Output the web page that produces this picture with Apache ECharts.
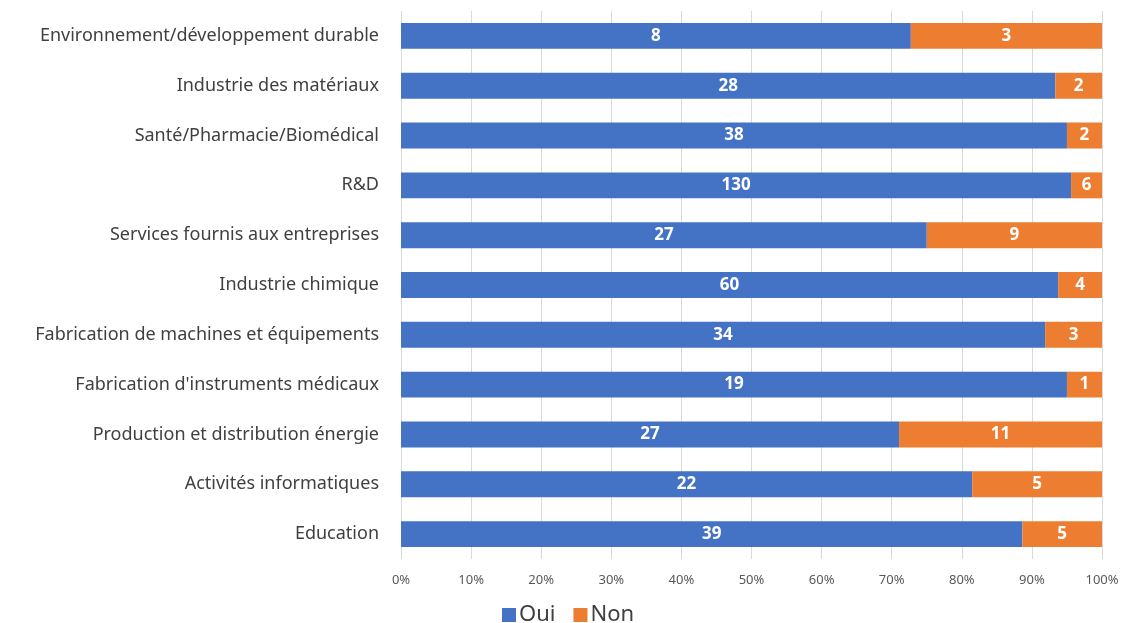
<!DOCTYPE html>
<html><head><meta charset="utf-8">
<script src="https://cdn.jsdelivr.net/npm/echarts@6/dist/echarts.min.js"></script>
<style>html,body{margin:0;padding:0;background:#fff}#c{width:1122px;height:623px}</style>
</head><body><div id="c"></div>
<script>
const categories = ["Environnement/développement durable","Industrie des matériaux","Santé/Pharmacie/Biomédical","R&D","Services fournis aux entreprises","Industrie chimique","Fabrication de machines et équipements","Fabrication d'instruments médicaux","Production et distribution énergie","Activités informatiques","Education"];
const oui = [8,28,38,130,27,60,34,19,27,22,39];
const non = [3,2,2,6,9,4,3,1,11,5,5];
const xTicks = ["0%","10%","20%","30%","40%","50%","60%","70%","80%","90%","100%"];

const pct = (arr, i) => arr[i] / (oui[i] + non[i]) * 100;
const ouiData = oui.map((v,i)=>({value:pct(oui,i), count:v}));
const nonData = non.map((v,i)=>({value:pct(non,i), count:v}));
const font = "Noto Sans";
const chart = echarts.init(document.getElementById('c'));
const lbl = {show:true, position:'inside', color:'#fff', fontWeight:'bold', fontSize:17, fontFamily:font, formatter:p=>p.data.count};
chart.setOption({
  animation:false,
  grid:{left:401, right:20, top:11, height:548, containLabel:false},
  legend:{left:497, top:599, itemWidth:14, itemHeight:14, itemGap:18, icon:'rect',
    textStyle:{fontSize:22, color:'#404040', fontFamily:font, padding:[0,0,0,-2]}, data:['Oui','Non']},
  xAxis:{type:'value', min:0, max:100, interval:10,
    axisLabel:{formatter:v=>xTicks[Math.round(v/10)], color:'#595959', fontSize:13, fontFamily:font, margin:15},
    splitLine:{show:true, lineStyle:{color:'#d9d9d9', width:1}},
    axisLine:{show:false}, axisTick:{show:false}},
  yAxis:{type:'category', data:categories, inverse:true,
    axisLine:{show:false}, axisTick:{show:false},
    axisLabel:{color:'#404040', fontSize:18, fontFamily:font, margin:22}},
  series:[
    {name:'Oui', type:'bar', stack:'t', data:ouiData, barWidth:'52%', itemStyle:{color:'#4472C4'}, label:lbl},
    {name:'Non', type:'bar', stack:'t', data:nonData, barWidth:'52%', itemStyle:{color:'#ED7D31'}, label:lbl}
  ]
});
</script></body></html>
